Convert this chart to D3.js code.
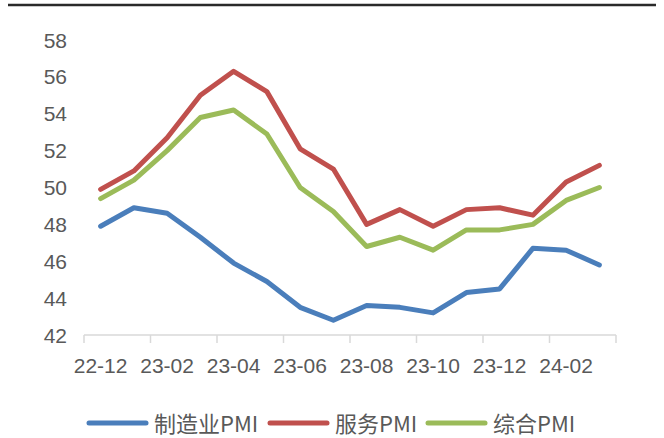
<!DOCTYPE html>
<meta charset="utf-8">
<script src="https://cdn.jsdelivr.net/npm/d3@7"></script>
<style>
  body { margin: 0; background: #fff; }
  .tick text { fill: #595959; }
</style>
<div id="chart"></div>
<script>
  // months shown on the category axis
  const months = ["22-12","23-01","23-02","23-03","23-04","23-05","23-06","23-07",
                  "23-08","23-09","23-10","23-11","23-12","24-01","24-02","24-03"];
  const manufacturing = [47.9,48.9,48.6,47.3,45.9,44.9,43.5,42.8,43.6,43.5,43.2,44.3,44.5,46.7,46.6,45.8];
  const services      = [49.9,50.9,52.7,55.0,56.3,55.2,52.1,51.0,48.0,48.8,47.9,48.8,48.9,48.5,50.3,51.2];
  const composite     = [49.4,50.4,52.0,53.8,54.2,52.9,50.0,48.7,46.8,47.3,46.6,47.7,47.7,48.0,49.3,50.0];
  const yTicks = [42,44,46,48,50,52,54,56,58];
  const seriesNames = ["制造业PMI","服务PMI","综合PMI"];
  const colors = ["#4a7ebb","#c0504d","#9bbb59"];

  const W = 664, H = 438;
  const svg = d3.select("#chart").append("svg")
      .attr("width", W).attr("height", H);

  // top rule
  svg.append("line")
      .attr("x1", 8).attr("x2", 656).attr("y1", 5).attr("y2", 5)
      .attr("stroke", "#2a2a2a").attr("stroke-width", 2.5);

  const x = d3.scaleBand().domain(months).range([84, 616]);
  const y = d3.scaleLinear().domain([42, 58]).range([335, 40]);

  // y labels (no axis line)
  svg.append("g").selectAll("text")
    .data(yTicks).join("text")
      .attr("x", 67).attr("y", d => y(d)).attr("dy", "0.36em")
      .attr("text-anchor", "end")
      .attr("font-family", "Liberation Sans, Arial, sans-serif")
      .attr("font-size", 21).attr("fill", "#595959")
      .text(d => d);

  // x axis: line, ticks every two months, labels on every other month
  const ax = svg.append("g");
  ax.append("line")
      .attr("x1", 84).attr("x2", 616).attr("y1", 335).attr("y2", 335)
      .attr("stroke", "#d9d9d9").attr("stroke-width", 1.5);
  const tickPos = d3.range(0, months.length + 1, 2).map(i => 84 + i * x.step());
  ax.selectAll(".tk").data(tickPos).join("line")
      .attr("x1", d => d).attr("x2", d => d).attr("y1", 335).attr("y2", 343)
      .attr("stroke", "#d9d9d9").attr("stroke-width", 1.5);
  ax.selectAll(".lb").data(months.filter((m, i) => i % 2 === 0)).join("text")
      .attr("x", d => x(d) + x.bandwidth() / 2).attr("y", 365).attr("dy", "0.36em")
      .attr("text-anchor", "middle")
      .attr("font-family", "Liberation Sans, Arial, sans-serif")
      .attr("font-size", 21).attr("fill", "#595959")
      .text(d => d);

  const line = d3.line()
      .x((d, i) => x(months[i]) + x.bandwidth() / 2)
      .y(d => y(d));

  [manufacturing, services, composite].forEach((s, k) => {
    svg.append("path")
        .attr("d", line(s))
        .attr("fill", "none")
        .attr("stroke", colors[k])
        .attr("stroke-width", 5)
        .attr("stroke-linejoin", "round")
        .attr("stroke-linecap", "round");
  });

  // legend
  const legendX = [89, 270, 428];
  const lg = svg.append("g");
  seriesNames.forEach((n, k) => {
    lg.append("line")
        .attr("x1", legendX[k]).attr("x2", legendX[k] + 57)
        .attr("y1", 423).attr("y2", 423)
        .attr("stroke", colors[k]).attr("stroke-width", 5)
        .attr("stroke-linecap", "round");
    lg.append("text")
        .attr("x", legendX[k] + 65).attr("y", 424).attr("dy", "0.36em")
        .attr("font-family", "Noto Sans CJK SC, sans-serif")
        .attr("font-size", 22).attr("fill", "#595959")
        .text(n);
  });
</script>
